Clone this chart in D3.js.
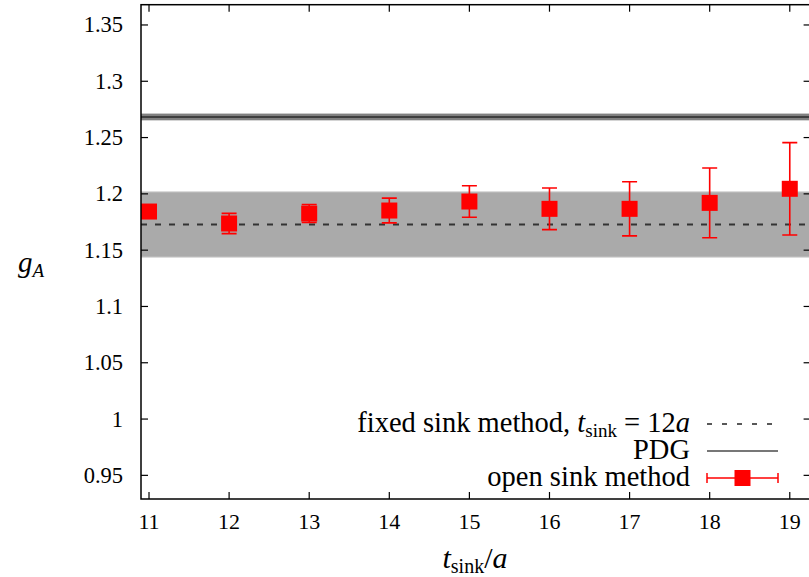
<!DOCTYPE html>
<html>
<head>
<meta charset="utf-8">
<script src="https://cdn.jsdelivr.net/npm/d3@7"></script>
<style>
  html, body { margin: 0; padding: 0; background: #fff; }
</style>
</head>
<body>
<svg id="chart" width="809" height="577" font-family="'Liberation Serif', 'Times New Roman', 'DejaVu Serif', serif"></svg>
<script>
// ---- data ----
const tsink = [11, 12, 13, 14, 15, 16, 17, 18, 19];
const gA = [1.1843, 1.1737, 1.1825, 1.1852, 1.1932, 1.1867, 1.1867, 1.1920, 1.2045];
const gAErr = [0.005, 0.009, 0.008, 0.011, 0.014, 0.0185, 0.024, 0.031, 0.041];
const fixedSink = [1.1728];
const fixedSinkErr = [0.029];
const pdg = [1.2683];
const pdgErr = [0.003];
const xTicks = [11, 12, 13, 14, 15, 16, 17, 18, 19];
const yTicks = [0.95, 1, 1.05, 1.1, 1.15, 1.2, 1.25, 1.3, 1.35];
const legendLabels = ["fixed sink method", "PDG", "open sink method"];

const svg = d3.select("#chart");
const L = 141, R = 810.6, T = 4.7, B = 499;
const x = d3.scaleLinear().domain([10.9, 19.26]).range([L, R]);
const y = d3.scaleLinear().domain([0.929, 1.368]).range([B, T]);

svg.append("defs").append("clipPath").attr("id", "clip")
  .append("rect").attr("x", L).attr("y", T).attr("width", R - L).attr("height", B - T);
const plot = svg.append("g").attr("clip-path", "url(#clip)");

// fixed sink band
plot.append("rect")
  .attr("x", L).attr("width", R - L)
  .attr("y", y(fixedSink[0] + fixedSinkErr[0]))
  .attr("height", y(fixedSink[0] - fixedSinkErr[0]) - y(fixedSink[0] + fixedSinkErr[0]))
  .attr("fill", "#aaaaaa");
[fixedSink[0] + fixedSinkErr[0], fixedSink[0] - fixedSinkErr[0]].forEach(v => {
  plot.append("line").attr("x1", L).attr("x2", R).attr("y1", y(v)).attr("y2", y(v))
    .attr("stroke", "#cfcfcf").attr("stroke-width", 1);
});
plot.append("line").attr("x1", L).attr("x2", R)
  .attr("y1", y(fixedSink[0])).attr("y2", y(fixedSink[0]))
  .attr("stroke", "#333").attr("stroke-width", 2).attr("stroke-dasharray", "6,8");

// PDG band
plot.append("rect")
  .attr("x", L).attr("width", R - L)
  .attr("y", y(pdg[0] + pdgErr[0]))
  .attr("height", y(pdg[0] - pdgErr[0]) - y(pdg[0] + pdgErr[0]))
  .attr("fill", "#808080");
plot.append("line").attr("x1", L).attr("x2", R)
  .attr("y1", y(pdg[0])).attr("y2", y(pdg[0]))
  .attr("stroke", "#2a2a2a").attr("stroke-width", 1.5);

// error bars + markers
const data = tsink.map((t, i) => ({t, v: gA[i], e: gAErr[i]}));
const eg = plot.append("g").attr("stroke", "#ff0000").attr("stroke-width", 1.6);
data.forEach(d => {
  eg.append("line").attr("x1", x(d.t)).attr("x2", x(d.t))
    .attr("y1", y(d.v + d.e)).attr("y2", y(d.v - d.e));
  [d.v + d.e, d.v - d.e].forEach(v => {
    eg.append("line").attr("x1", x(d.t) - 7.5).attr("x2", x(d.t) + 7.5)
      .attr("y1", y(v)).attr("y2", y(v));
  });
});
plot.append("g").selectAll("rect").data(data).join("rect")
  .attr("x", d => x(d.t) - 8).attr("y", d => y(d.v) - 8)
  .attr("width", 16).attr("height", 16).attr("fill", "#ff0000");

// frame
svg.append("rect").attr("x", L).attr("y", T).attr("width", R - L).attr("height", B - T)
  .attr("fill", "none").attr("stroke", "#000").attr("stroke-width", 1.5);

// ticks
const tk = svg.append("g").attr("stroke", "#000").attr("stroke-width", 1.2);
xTicks.forEach(t => {
  tk.append("line").attr("x1", x(t)).attr("x2", x(t)).attr("y1", B).attr("y2", B - 7);
  tk.append("line").attr("x1", x(t)).attr("x2", x(t)).attr("y1", T).attr("y2", T + 7);
});
yTicks.forEach(t => {
  tk.append("line").attr("x1", L).attr("x2", L + 7).attr("y1", y(t)).attr("y2", y(t));
  tk.append("line").attr("x1", R).attr("x2", R - 7).attr("y1", y(t)).attr("y2", y(t));
});

// tick labels
svg.append("g").selectAll("text").data(xTicks).join("text")
  .attr("x", d => x(d)).attr("y", 529).attr("text-anchor", "middle")
  .attr("font-size", 22).text(d => d);
svg.append("g").selectAll("text").data(yTicks).join("text")
  .attr("x", 123).attr("y", d => y(d) + 7.5).attr("text-anchor", "end")
  .attr("font-size", 22.5).text(d => d);

// axis labels
const yl = svg.append("text").attr("x", 18).attr("y", 272).attr("font-size", 29);
yl.append("tspan").attr("font-style", "italic").text("g");
yl.append("tspan").attr("font-style", "italic").attr("font-size", 19).attr("dy", 5).text("A");

const xl = svg.append("text").attr("x", 475).attr("y", 568).attr("text-anchor", "middle").attr("font-size", 30);
xl.append("tspan").attr("font-style", "italic").text("t");
xl.append("tspan").attr("font-size", 20).attr("dy", 5).text("sink");
xl.append("tspan").attr("dy", -5).text("/");
xl.append("tspan").attr("font-style", "italic").text("a");

// legend
const lx = 690, sx1 = 707, sx2 = 778;
const ly = [424, 451, 478];
const fs = 28.5;
const t1 = svg.append("text").attr("x", lx).attr("y", ly[0] + 8).attr("text-anchor", "end").attr("font-size", fs);
t1.append("tspan").text(legendLabels[0] + ", ");
t1.append("tspan").attr("font-style", "italic").text("t");
t1.append("tspan").attr("font-size", 19).attr("dy", 5).text("sink");
t1.append("tspan").attr("dy", -5).text(" = 12");
t1.append("tspan").attr("font-style", "italic").text("a");
svg.append("line").attr("x1", sx1).attr("x2", sx2).attr("y1", ly[0]).attr("y2", ly[0])
  .attr("stroke", "#222").attr("stroke-width", 1.3).attr("stroke-dasharray", "5,10");

svg.append("text").attr("x", lx).attr("y", ly[1] + 8).attr("text-anchor", "end").attr("font-size", fs).text(legendLabels[1]);
svg.append("line").attr("x1", sx1).attr("x2", sx2).attr("y1", ly[1]).attr("y2", ly[1])
  .attr("stroke", "#777").attr("stroke-width", 2);

svg.append("text").attr("x", lx).attr("y", ly[2] + 8).attr("text-anchor", "end").attr("font-size", fs).text(legendLabels[2]);
const lg = svg.append("g").attr("stroke", "#ff0000").attr("stroke-width", 1.5);
lg.append("line").attr("x1", sx1).attr("x2", sx2).attr("y1", ly[2]).attr("y2", ly[2]);
lg.append("line").attr("x1", sx1).attr("x2", sx1).attr("y1", ly[2] - 5).attr("y2", ly[2] + 5);
lg.append("line").attr("x1", sx2).attr("x2", sx2).attr("y1", ly[2] - 5).attr("y2", ly[2] + 5);
svg.append("rect").attr("x", (sx1 + sx2) / 2 - 8).attr("y", ly[2] - 8).attr("width", 16).attr("height", 16).attr("fill", "#ff0000");
</script>
</body>
</html>
